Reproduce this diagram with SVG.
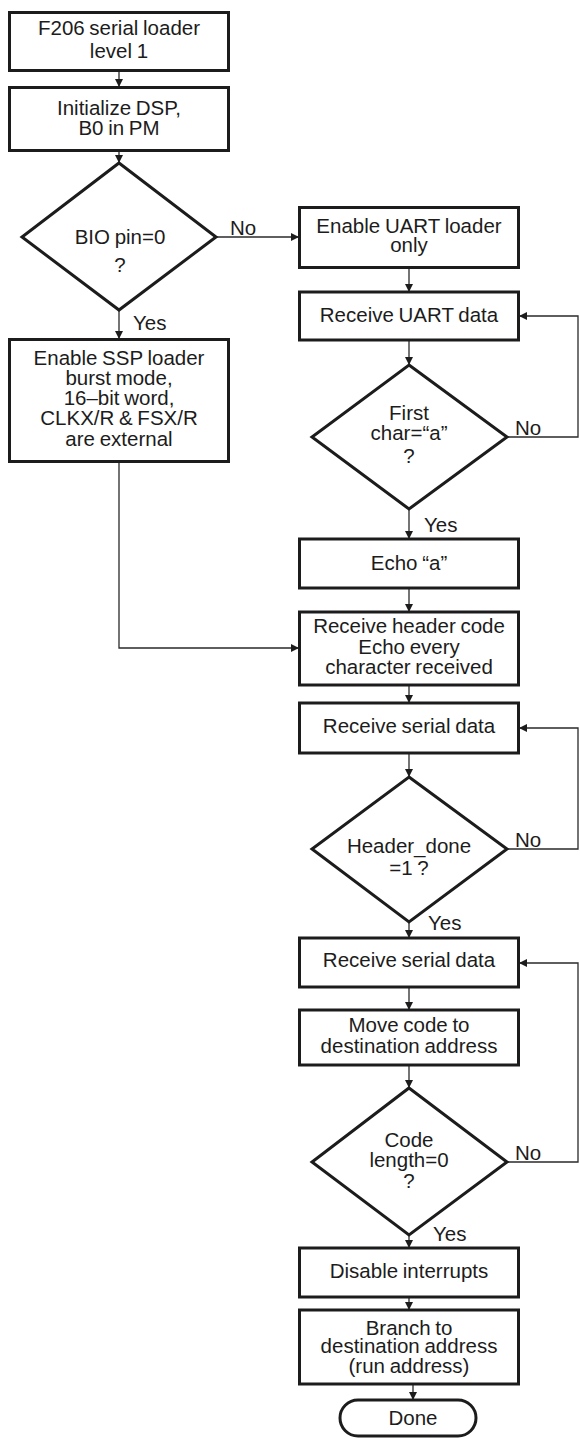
<svg xmlns="http://www.w3.org/2000/svg" width="580" height="1439" viewBox="0 0 580 1439">
<style>
  .box { fill: #fff; stroke: #1c1c1c; stroke-width: 3; }
  .con { fill: none; stroke: #2a2a2a; stroke-width: 1.3; }
  text { font-family: "Liberation Sans", Arial, sans-serif; font-size: 20.5px; fill: #1c1c1c; word-spacing: -1px; }
  .c { text-anchor: middle; }
</style>
<defs>
  <marker id="ah" markerUnits="userSpaceOnUse" markerWidth="9" markerHeight="9" refX="8" refY="4" orient="auto">
    <path d="M0,0 L8,4 L0,8 z" fill="#1c1c1c"/>
  </marker>
</defs>
<rect width="580" height="1439" fill="#fff"/>

<g id="connectors">
  <path class="con" d="M119,71 V87" marker-end="url(#ah)"/>
  <path class="con" d="M119,151 V163" marker-end="url(#ah)"/>
  <path class="con" d="M216,237 H299" marker-end="url(#ah)"/>
  <path class="con" d="M119,310 V339" marker-end="url(#ah)"/>
  <path class="con" d="M119,462 V648 H299" marker-end="url(#ah)"/>
  <path class="con" d="M409,268 V292" marker-end="url(#ah)"/>
  <path class="con" d="M409,340 V365" marker-end="url(#ah)"/>
  <path class="con" d="M507,437 H578 V316 H519" marker-end="url(#ah)"/>
  <path class="con" d="M409,509 V539" marker-end="url(#ah)"/>
  <path class="con" d="M409,588 V612" marker-end="url(#ah)"/>
  <path class="con" d="M409,685 V703" marker-end="url(#ah)"/>
  <path class="con" d="M409,753 V777" marker-end="url(#ah)"/>
  <path class="con" d="M507,849 H578 V728 H519" marker-end="url(#ah)"/>
  <path class="con" d="M409,922 V938" marker-end="url(#ah)"/>
  <path class="con" d="M409,987 V1010" marker-end="url(#ah)"/>
  <path class="con" d="M409,1065 V1088" marker-end="url(#ah)"/>
  <path class="con" d="M507,1162 H578 V963 H519" marker-end="url(#ah)"/>
  <path class="con" d="M409,1235 V1248" marker-end="url(#ah)"/>
  <path class="con" d="M409,1297 V1310" marker-end="url(#ah)"/>
  <path class="con" d="M413,1384 V1400" marker-end="url(#ah)"/>
  <text x="230" y="235">No</text>
  <text x="133" y="330">Yes</text>
  <text x="515" y="435">No</text>
  <text x="424" y="532">Yes</text>
  <text x="515" y="847">No</text>
  <text x="428" y="930">Yes</text>
  <text x="515" y="1160">No</text>
  <text x="433" y="1241">Yes</text>
</g>

<g id="start">
  <rect class="box" x="9.5" y="12.5" width="219" height="58"/>
  <text class="c" x="119" y="35">F206 serial loader</text>
  <text class="c" x="119" y="58">level 1</text>
</g>
<g id="init">
  <rect class="box" x="9.5" y="87.5" width="219" height="63"/>
  <text class="c" x="119" y="115">Initialize DSP,</text>
  <text class="c" x="119" y="135">B0 in PM</text>
</g>
<g id="bio">
  <polygon class="box" points="119,163 216,237 119,310 22,237"/>
  <text class="c" x="120" y="244">BIO pin=0</text>
  <text class="c" x="120" y="272">?</text>
</g>
<g id="ssp">
  <rect class="box" x="9.5" y="339.5" width="219" height="122"/>
  <text class="c" x="119" y="365">Enable SSP loader</text>
  <text class="c" x="119" y="385">burst mode,</text>
  <text class="c" x="119" y="405">16–bit word,</text>
  <text class="c" x="119" y="425">CLKX/R &amp; FSX/R</text>
  <text class="c" x="119" y="446">are external</text>
</g>
<g id="uart">
  <rect class="box" x="299.5" y="207.5" width="219" height="60"/>
  <text class="c" x="409" y="233">Enable UART loader</text>
  <text class="c" x="409" y="252">only</text>
</g>
<g id="recv-uart">
  <rect class="box" x="299.5" y="292" width="219" height="48"/>
  <text class="c" x="409" y="322">Receive UART data</text>
</g>
<g id="first-char">
  <polygon class="box" points="409,365 507,437 409,509 312,437"/>
  <text class="c" x="409" y="420">First</text>
  <text class="c" x="409" y="440">char=“a”</text>
  <text class="c" x="409" y="463">?</text>
</g>
<g id="echo">
  <rect class="box" x="299.5" y="539" width="219" height="49"/>
  <text class="c" x="409" y="570">Echo “a”</text>
</g>
<g id="header">
  <rect class="box" x="299.5" y="612" width="219" height="73"/>
  <text class="c" x="409" y="633">Receive header code</text>
  <text class="c" x="409" y="654">Echo every</text>
  <text class="c" x="409" y="674">character received</text>
</g>
<g id="recv-serial-1">
  <rect class="box" x="299.5" y="703" width="219" height="50"/>
  <text class="c" x="409" y="733">Receive serial data</text>
</g>
<g id="header-done">
  <polygon class="box" points="409,777 507,849 409,922 312,849"/>
  <text class="c" x="409" y="853">Header_done</text>
  <text class="c" x="409" y="875">=1 ?</text>
</g>
<g id="recv-serial-2">
  <rect class="box" x="299.5" y="938" width="219" height="49"/>
  <text class="c" x="409" y="967">Receive serial data</text>
</g>
<g id="move">
  <rect class="box" x="299.5" y="1010" width="219" height="55"/>
  <text class="c" x="409" y="1032">Move code to</text>
  <text class="c" x="409" y="1053">destination address</text>
</g>
<g id="code-length">
  <polygon class="box" points="409,1088 507,1162 409,1235 312,1162"/>
  <text class="c" x="409" y="1147">Code</text>
  <text class="c" x="409" y="1167">length=0</text>
  <text class="c" x="409" y="1188">?</text>
</g>
<g id="disable">
  <rect class="box" x="299.5" y="1248" width="219" height="49"/>
  <text class="c" x="409" y="1278">Disable interrupts</text>
</g>
<g id="branch">
  <rect class="box" x="299.5" y="1310" width="219" height="74"/>
  <text class="c" x="409" y="1335">Branch to</text>
  <text class="c" x="409" y="1353">destination address</text>
  <text class="c" x="409" y="1373">(run address)</text>
</g>
<g id="done">
  <rect class="box" x="340" y="1400" width="136" height="36" rx="18" ry="18"/>
  <text class="c" x="413" y="1425">Done</text>
</g>
</svg>
